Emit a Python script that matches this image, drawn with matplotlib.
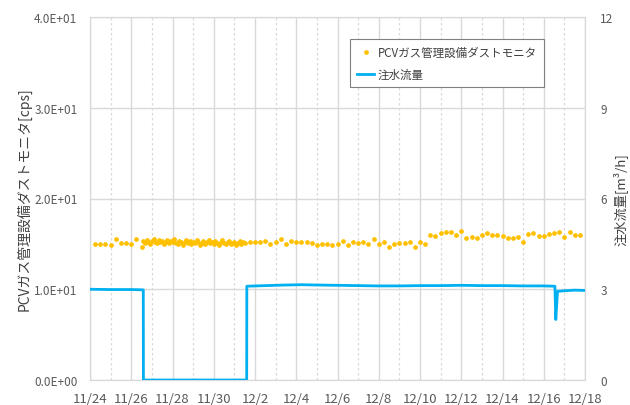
import numpy as np
import pandas as pd
import matplotlib
matplotlib.use("Agg")
import matplotlib.pyplot as plt
from matplotlib.lines import Line2D

plt.rcParams['font.family'] = ['Noto Sans CJK JP', 'DejaVu Sans']

# ダストモニタ (cps) : 6時間毎 / 停止期間中は2時間毎
dust_a = [15.0, 15.0, 15.0, 14.9, 15.5, 15.05, 15.05, 15.0, 15.5]
dust_b = [14.7, 15.3, 15.1, 15.4, 15.2, 15.0, 15.3, 15.5, 15.2, 15.1,
          15.4, 15.2, 15.3, 15.0, 15.2, 15.4, 15.1, 15.3, 15.2, 15.5,
          15.1, 15.0, 15.3, 15.2, 14.9, 15.2, 15.4, 15.1, 15.3, 15.0,
          15.2, 15.1, 15.4, 15.2, 14.9, 15.1, 15.3, 15.0, 15.2, 15.4,
          15.1, 15.2, 15.0, 15.3, 15.1, 14.9, 15.2, 15.4, 15.1, 15.0,
          15.2, 15.3, 15.0, 15.1, 15.2, 14.9, 15.1, 15.3, 15.0, 15.2, 15.1]
dust_c = [15.25, 15.2, 15.25, 15.35, 15.0, 15.2, 15.5, 15.0, 15.35, 15.25,
          15.2, 15.2, 15.1, 14.9, 15.0, 15.0, 14.9, 15.0, 15.35, 14.9,
          15.25, 15.1, 15.2, 15.0, 15.5, 15.0, 15.25, 14.7, 15.0, 15.05,
          15.05, 15.2, 14.65, 15.25, 15.0, 16.0, 15.9, 16.2, 16.35, 16.35,
          16.0, 16.45, 15.7, 15.8, 15.7, 16.0, 16.2, 16.0, 16.0, 15.9,
          15.6, 15.7, 15.8, 15.25, 16.1, 16.2, 15.9, 15.9, 16.1, 16.2,
          16.3, 15.8, 16.3, 16.0, 16.0]

t_a = pd.date_range("2018-11-24 06:00", periods=len(dust_a), freq="6h")
t_b = pd.date_range("2018-11-26 12:00", periods=len(dust_b), freq="2h")
t_c = pd.date_range("2018-12-01 18:00", periods=len(dust_c), freq="6h")
dust_t = t_a.append(t_b).append(t_c)
dust_v = dust_a + dust_b + dust_c

# 注水流量 (m3/h)
flow_t = pd.to_datetime([
    "2018-11-24 00:00", "2018-11-25 00:00", "2018-11-26 00:00", "2018-11-26 14:00",
    "2018-11-26 14:10", "2018-12-01 14:20", "2018-12-01 14:30", "2018-12-02 12:00",
    "2018-12-03 12:00", "2018-12-04 06:00", "2018-12-05 00:00", "2018-12-06 00:00",
    "2018-12-07 00:00", "2018-12-08 00:00", "2018-12-09 00:00", "2018-12-10 00:00",
    "2018-12-11 00:00", "2018-12-12 00:00", "2018-12-13 00:00", "2018-12-14 00:00",
    "2018-12-15 00:00", "2018-12-16 00:00", "2018-12-16 13:00", "2018-12-16 14:00",
    "2018-12-16 16:00", "2018-12-17 00:00", "2018-12-17 12:00", "2018-12-18 00:00"])
flow_v = [3.0, 2.99, 2.99, 2.98,
          0.0, 0.0, 3.10, 3.12,
          3.14, 3.15, 3.14, 3.13,
          3.12, 3.11, 3.11, 3.12,
          3.12, 3.13, 3.12, 3.12,
          3.11, 3.11, 3.10, 2.0,
          2.93, 2.95, 2.97, 2.96]

left_ticks = [0, 10, 20, 30, 40]
left_labels = ["0.0E+00", "1.0E+01", "2.0E+01", "3.0E+01", "4.0E+01"]
right_ticks = [0, 3, 6, 9, 12]

grid_c = "#D9D9D9"
text_c = "#595959"

fig = plt.figure(figsize=(6.3, 4.06), dpi=100)
ax = fig.add_axes([90/630, 25/406, 495/630, 363/406])
ax2 = ax.twinx()

ax.plot(dust_t, dust_v, "o", color="#FFC000", markersize=3.4, markeredgewidth=0, zorder=3)
ax2.plot(flow_t, flow_v, "-", color="#00B0F0", linewidth=2.0, zorder=3)

x0 = pd.Timestamp("2018-11-24")
x1 = pd.Timestamp("2018-12-18")
ax.set_xlim(x0, x1)
ax.set_ylim(0, 40)
ax2.set_ylim(0, 12)

major = pd.date_range(x0, x1, freq="2D")
minor = pd.date_range("2018-11-25", x1, freq="2D")
ax.set_xticks(major)
ax.set_xticklabels([f"{d.month}/{d.day}" for d in major])
ax.set_xticks(minor, minor=True)
ax.set_yticks(left_ticks)
ax.set_yticklabels(left_labels)
ax2.set_yticks(right_ticks)

ax.grid(axis="y", color=grid_c, linewidth=1.0)
ax.grid(axis="x", which="major", color=grid_c, linewidth=1.0)
ax.grid(axis="x", which="minor", color=grid_c, linewidth=0.9, linestyle=(0, (2, 2)))
ax.set_axisbelow(True)

for a in (ax, ax2):
    for s in a.spines.values():
        s.set_color(grid_c)
    a.tick_params(which="both", length=0, colors=text_c, labelsize=8.5)
ax.tick_params(axis="y", pad=9)
ax.tick_params(axis="x", pad=9, labelsize=9.5)
ax2.tick_params(axis="y", pad=11)

ax.set_ylabel("PCVガス管理設備ダストモニタ[cps]", fontsize=10, color="#404040")
ax.yaxis.set_label_coords((32 - 90) / 495, 0.5)
ax2.set_ylabel("注水流量[m³/h]", fontsize=9.5, color="#404040")
ax2.yaxis.set_label_coords((613 - 90) / 495, 0.5)

handles = [Line2D([], [], marker="o", linestyle="none", color="#FFC000", markersize=3.4, markeredgewidth=0),
           Line2D([], [], color="#00B0F0", linewidth=2.0)]
leg = ax2.legend(handles, ["PCVガス管理設備ダストモニタ", "注水流量"],
                 loc="upper left", bbox_to_anchor=((350 - 90) / 495, (381 - 40) / 363),
                 borderaxespad=0, fontsize=8.3,
                 fancybox=False, edgecolor="#808080", framealpha=1.0,
                 handlelength=1.5, handletextpad=0.3, borderpad=0.6, labelspacing=0.75)
leg.get_frame().set_linewidth(0.8)
for txt in leg.get_texts():
    txt.set_color("#404040")

fig.savefig("out.png", dpi=100)
